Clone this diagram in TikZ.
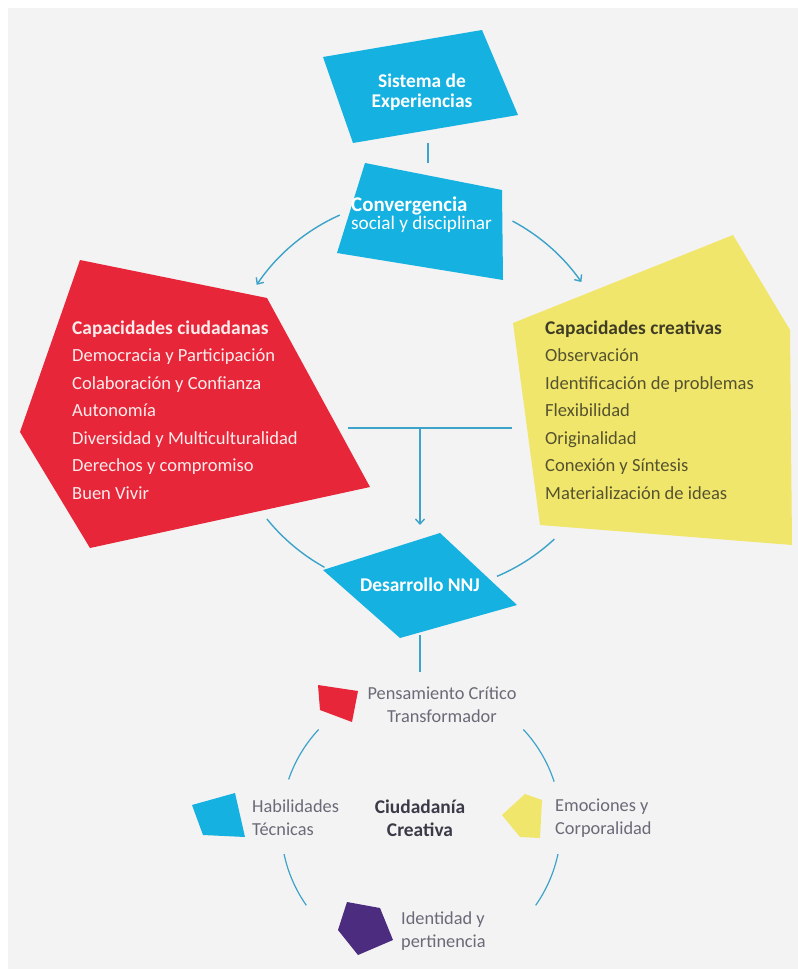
\documentclass[tikz,border=0pt]{standalone}
\usepackage{fontspec}
\setmainfont{Carlito}
\usetikzlibrary{arrows.meta,calc}
\definecolor{bg}{HTML}{F3F3F3}
\definecolor{cy}{HTML}{15B2E1}
\definecolor{rd}{HTML}{E8263A}
\definecolor{yl}{HTML}{F1E66C}
\definecolor{pu}{HTML}{4B2C7E}
\definecolor{ln}{HTML}{3DA3C9}
\definecolor{ytx}{HTML}{55532F}
\definecolor{ytt}{HTML}{3F3D25}
\definecolor{gtx}{HTML}{6A6A78}
\definecolor{ctx}{HTML}{3A3A48}
\definecolor{rtx}{HTML}{FCECEC}
\begin{document}
\begin{tikzpicture}[x=1bp,y=1bp,
  conn/.style={draw=ln, line width=1.4bp},
  tip/.style={-{Straight Barb[length=5bp,width=9bp]}},
  big/.style={inner sep=0pt, anchor=base west, font=\fontsize{18.6}{20}\selectfont},
  bigb/.style={big, font=\bfseries\fontsize{19.5}{20}\selectfont},
  small/.style={inner sep=0pt, font=\fontsize{18.4}{23}\selectfont, text=gtx}]
\useasboundingbox (0,0) rectangle (798,-969);
\fill[white] (0,0) rectangle (798,-969);
\fill[bg] (8,-8) rectangle (798,-969);

% shapes
\fill[cy] (323,-57) -- (482,-30) -- (518,-115) -- (353,-143) -- cycle;
\fill[cy] (365,-163) -- (502,-190) -- (503,-280) -- (337,-253) -- cycle;
\fill[rd] (80,-260) -- (267,-298) -- (370,-487) -- (90,-548) -- (20,-432) -- cycle;
\fill[yl] (733,-235) -- (790,-330) -- (792,-545) -- (540,-525) -- (513,-323) -- cycle;
\fill[cy] (440,-533) -- (517,-605) -- (400,-638) -- (323,-570) -- cycle;
\fill[rd] (318,-685) -- (358,-691) -- (352,-722) -- (320,-710) -- cycle;
\fill[cy] (192,-805) -- (235,-793) -- (245,-837) -- (203,-835) -- cycle;
\fill[yl] (502,-815) -- (525,-794) -- (542,-800) -- (540,-838) -- (520,-837) -- cycle;
\fill[pu] (338,-930) -- (347,-902) -- (380,-908) -- (393,-940) -- (358,-955) -- cycle;

% texts
\node[align=center, inner sep=0pt, text=white, font=\bfseries\fontsize{19.5}{20.5}\selectfont] (sis) at (422,-92) {Sistema de\\Experiencias};
\node[big, text=white, font=\bfseries\fontsize{21}{20}\selectfont] (conv1) at (351,-211) {Convergencia};
\node[big, text=white, font=\fontsize{19.3}{20}\selectfont] (conv2) at (351,-229) {social y disciplinar};
\node[inner sep=0pt, text=white, font=\bfseries\fontsize{19.5}{20}\selectfont] (des) at (420,-585) {Desarrollo NNJ};

\node[bigb, text=rtx] (r1) at (72,-334) {Capacidades ciudadanas};
\foreach \t [count=\i from 2] in {Democracia y Participación, Colaboración y Confianza, Autonomía, Diversidad y Multiculturalidad, Derechos y compromiso, Buen Vivir}
  \node[big, text=rtx] (r\i) at (72,{-334-27.5*(\i-1)}) {\t};

\node[bigb, text=ytt] (y1) at (545,-334) {Capacidades creativas};
\foreach \t [count=\i from 2] in {Observación, Identificación de problemas, Flexibilidad, Originalidad, Conexión y Síntesis, Materialización de ideas}
  \node[big, text=ytx] (y\i) at (545,{-334-27.5*(\i-1)}) {\t};

\node[small, align=center] (pen) at (442,-705) {Pensamiento Crítico\\Transformador};
\node[small, align=left, anchor=west] (hab) at (252,-818) {Habilidades\\Técnicas};
\node[small, align=center, text=ctx, font=\bfseries\fontsize{19.5}{23}\selectfont] (ciu) at (420,-818) {Ciudadanía\\Creativa};
\node[small, align=left, anchor=west] (emo) at (555,-818) {Emociones y\\Corporalidad};
\node[small, align=left, anchor=west] (ide) at (401,-931) {Identidad y\\pertinencia};

% connectors
\coordinate (C1) at (420,-395);
\coordinate (C2) at (421,-825);
\coordinate (sisB) at (428,-143);
\coordinate (convT) at (428,-163);
\draw[conn] (sisB) -- (convT);

\coordinate (aL) at ($(C1)+(114:197)$);
\coordinate (aR) at ($(C1)+(62:197)$);
\coordinate (bL) at ($(C1)+(219:197)$);
\coordinate (bR) at ($(C1)+(313:197)$);
\draw[conn,tip] (aL) arc[start angle=114, end angle=146, radius=197];
\draw[conn,tip] (aR) arc[start angle=62, end angle=35, radius=197];
\draw[conn] (bL) arc[start angle=219, end angle=241, radius=197];
\draw[conn] (bR) arc[start angle=313, end angle=293, radius=197];

\coordinate (tL) at (348,-428);
\coordinate (tR) at (512,-428);
\coordinate (tM) at (420,-428);
\coordinate (desT) at (420,-525);
\draw[conn] (tL) -- (tR);
\draw[conn,tip] (tM) -- (desT);

\coordinate (desB) at (420,-635);
\coordinate (penT) at (420,-672);
\draw[conn] (desB) -- (penT);

\coordinate (c1) at ($(C2)+(137:140)$);
\coordinate (c2) at ($(C2)+(43:140)$);
\coordinate (c3) at ($(C2)+(192:140)$);
\coordinate (c4) at ($(C2)+(348:140)$);
\draw[conn, line width=1.2bp] (c1) arc[start angle=137, end angle=161, radius=140];
\draw[conn, line width=1.2bp] (c2) arc[start angle=43, end angle=18, radius=140];
\draw[conn, line width=1.2bp] (c3) arc[start angle=192, end angle=215, radius=140];
\draw[conn, line width=1.2bp] (c4) arc[start angle=348, end angle=325, radius=140];
\end{tikzpicture}
\end{document}
